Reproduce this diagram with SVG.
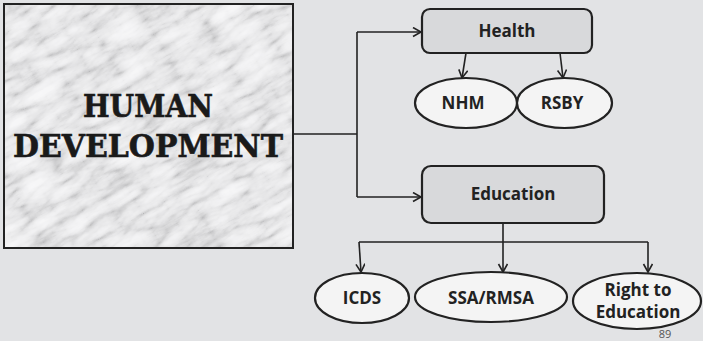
<svg xmlns="http://www.w3.org/2000/svg" width="703" height="341" viewBox="0 0 703 341">
<style>
.box{fill:#d8d9db;stroke:#222;stroke-width:2.2}
.oval{fill:#f4f4f4;stroke:#222;stroke-width:2.2}
.lbl{font-family:"Open Sans","Noto Sans",sans-serif;font-weight:700;font-size:17px;fill:#222;text-anchor:middle}
.big{font-family:"DejaVu Serif","Liberation Serif",serif;font-weight:900;font-size:31px;fill:#1a1a1a;stroke:#1a1a1a;stroke-width:0.6;text-anchor:middle}
.con{fill:none;stroke:#222;stroke-width:1.6}
</style>
<defs>
<marker id="ah" markerUnits="userSpaceOnUse" markerWidth="12" markerHeight="12" refX="9" refY="5" orient="auto">
<path d="M1,0.5 L9,5 L1,9.5" fill="none" stroke="#222" stroke-width="1.6"/>
</marker>
<filter id="marble" x="0" y="0" width="1" height="1" filterUnits="objectBoundingBox">
<feTurbulence type="turbulence" baseFrequency="0.02 0.06" numOctaves="5" seed="7" result="t"/>
<feColorMatrix in="t" type="matrix" values="0.33 0.33 0.33 0 0 0.33 0.33 0.33 0 0 0.33 0.33 0.33 0 0 0 0 0 0 1" result="g"/>
<feComponentTransfer in="g">
<feFuncR type="table" tableValues="0.45 0.62 0.78 0.87 0.92 0.94 0.95 0.96"/>
<feFuncG type="table" tableValues="0.45 0.62 0.78 0.87 0.92 0.94 0.95 0.96"/>
<feFuncB type="table" tableValues="0.46 0.63 0.79 0.88 0.93 0.95 0.96 0.97"/>
</feComponentTransfer>
</filter>
<clipPath id="bclip"><rect x="4" y="4" width="289" height="244"/></clipPath>
</defs>
<rect width="703" height="341" fill="#e2e3e5"/>
<g id="human-development">
<g clip-path="url(#bclip)">
<rect x="-150" y="-150" width="600" height="550" fill="#fff" filter="url(#marble)" transform="rotate(-30 148 126)"/>
</g>
<rect x="4" y="4" width="289" height="244" fill="none" stroke="#222" stroke-width="2"/>
<text class="big" x="148" y="117" textLength="130" lengthAdjust="spacingAndGlyphs">HUMAN</text>
<text class="big" x="148" y="157" textLength="270" lengthAdjust="spacingAndGlyphs">DEVELOPMENT</text>
</g>
<g id="connectors">
<path class="con" d="M293,134 H357 M357,32 V197"/>
<path class="con" d="M357,32 H421" marker-end="url(#ah)"/>
<path class="con" d="M357,197 H421" marker-end="url(#ah)"/>
<path class="con" d="M466,53 L462,78" marker-end="url(#ah)"/>
<path class="con" d="M560,53 L563,78" marker-end="url(#ah)"/>
<path class="con" d="M503,223 V242 M359,242 H648"/>
<path class="con" d="M359,242 L361,272" marker-end="url(#ah)"/>
<path class="con" d="M503,242 V272" marker-end="url(#ah)"/>
<path class="con" d="M648,242 V272" marker-end="url(#ah)"/>
</g>
<g id="health">
<rect class="box" x="422" y="9" width="170" height="44" rx="8"/>
<text class="lbl" x="507" y="37">Health</text>
</g>
<g id="nhm">
<ellipse class="oval" cx="466" cy="103" rx="51" ry="25"/>
<text class="lbl" x="463" y="109">NHM</text>
</g>
<g id="rsby">
<ellipse class="oval" cx="564.5" cy="103" rx="47.5" ry="25"/>
<text class="lbl" x="562" y="109">RSBY</text>
</g>
<g id="education">
<rect class="box" x="422" y="166" width="182" height="57" rx="9"/>
<text class="lbl" x="513" y="200">Education</text>
</g>
<g id="icds">
<ellipse class="oval" cx="362" cy="298" rx="47" ry="25"/>
<text class="lbl" x="362" y="304">ICDS</text>
</g>
<g id="ssa-rmsa">
<ellipse class="oval" cx="491" cy="297" rx="76" ry="25"/>
<text class="lbl" x="491" y="304">SSA/RMSA</text>
</g>
<g id="rte">
<ellipse class="oval" cx="637" cy="301" rx="64" ry="28"/>
<text class="lbl" x="638" y="296">Right to</text>
<text class="lbl" x="638" y="318">Education</text>
</g>
<text x="665" y="338" font-family="'Open Sans','Noto Sans',sans-serif" font-size="11" fill="#555" text-anchor="middle">89</text>
</svg>
